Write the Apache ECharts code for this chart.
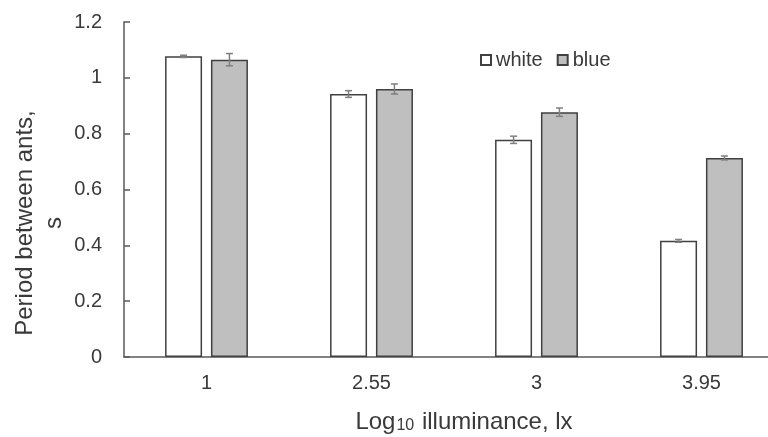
<!DOCTYPE html>
<html>
<head>
<meta charset="utf-8">
<style>
  html, body { margin: 0; padding: 0; background: #ffffff; }
  #chart { width: 768px; height: 437px; }
</style>
<script src="https://cdn.jsdelivr.net/npm/echarts@6/dist/echarts.min.js"></script>
</head>
<body>
<div id="chart"></div>
<script>
const categories = ['1', '2.55', '3', '3.95'];
const whiteValues = [1.077, 0.942, 0.778, 0.416];
const blueValues = [1.065, 0.960, 0.877, 0.713];
const whiteErrors = [0.004, 0.012, 0.013, 0.005];
const blueErrors = [0.022, 0.018, 0.015, 0.007];
const yTickLabels = ['0', '0.2', '0.4', '0.6', '0.8', '1', '1.2'];

const FONT = 'Liberation Sans, Arial, sans-serif';
const TEXT = '#3a3a3a';
const BAR_W = 37;
const BAR_GAP = 0.24;

function errorBars(sign) {
  return function (params, api) {
    const i = api.value(0);
    const v = api.value(1);
    const e = api.value(2);
    const off = sign * BAR_W * (1 + BAR_GAP) / 2;
    const x = api.coord([i, v])[0] + off;
    const yTop = api.coord([i, v + e])[1];
    const yBot = api.coord([i, v - e])[1];
    const cap = 3.5;
    const style = { stroke: '#7f7f7f', lineWidth: 1.5 };
    return {
      type: 'group',
      children: [
        { type: 'line', shape: { x1: x, y1: yTop, x2: x, y2: yBot }, style: style },
        { type: 'line', shape: { x1: x - cap, y1: yTop, x2: x + cap, y2: yTop }, style: style },
        { type: 'line', shape: { x1: x - cap, y1: yBot, x2: x + cap, y2: yBot }, style: style }
      ]
    };
  };
}

const chart = echarts.init(document.getElementById('chart'), null, { renderer: 'canvas' });
chart.setOption({
  animation: false,
  backgroundColor: '#ffffff',
  textStyle: { fontFamily: FONT, color: TEXT },
  grid: { left: 124, top: 22, width: 660, height: 335, containLabel: false, outerBoundsMode: 'none' },
  legend: {
    data: ['white', 'blue'],
    left: 475,
    top: 45,
    icon: 'rect',
    itemWidth: 10,
    itemHeight: 10,
    itemGap: 14,
    textStyle: { fontFamily: FONT, fontSize: 20, color: TEXT }
  },
  xAxis: {
    type: 'category',
    data: categories,
    axisLine: { show: true, lineStyle: { color: '#595959', width: 1.5 } },
    axisTick: { show: false },
    axisLabel: { fontFamily: FONT, fontSize: 20, color: TEXT, margin: 16 },
    splitLine: { show: false }
  },
  yAxis: {
    type: 'value',
    min: 0,
    max: 1.2,
    interval: 0.2,
    axisLine: { show: true, lineStyle: { color: '#595959', width: 1.5 } },
    axisTick: { show: true, inside: true, length: 6, lineStyle: { color: '#595959', width: 1.5 } },
    axisLabel: {
      fontFamily: FONT, fontSize: 20, color: TEXT, margin: 22,
      formatter: function (v) { return yTickLabels[Math.round(v / 0.2)]; }
    },
    splitLine: { show: false }
  },
  graphic: [
    {
      type: 'text',
      x: 40,
      y: 223,
      rotation: Math.PI / 2,
      style: {
        text: 'Period between ants,\ns',
        fontFamily: FONT,
        fontSize: 24,
        lineHeight: 29,
        fill: TEXT,
        align: 'center',
        verticalAlign: 'middle'
      }
    },
    {
      type: 'text',
      x: 464,
      y: 410,
      style: {
        text: '{a|Log}{sub|10}{a| illuminance, lx}',
        align: 'center',
        verticalAlign: 'top',
        fill: TEXT,
        rich: {
          a: { fontFamily: FONT, fontSize: 24, lineHeight: 24, verticalAlign: 'top', fill: TEXT },
          sub: { fontFamily: FONT, fontSize: 16, lineHeight: 16, verticalAlign: 'bottom', padding: [11, 1, 0, 1], fill: TEXT }
        }
      }
    }
  ],
  series: [
    {
      name: 'white',
      type: 'bar',
      data: whiteValues,
      barWidth: BAR_W,
      barGap: (BAR_GAP * 100) + '%',
      itemStyle: { color: '#ffffff', borderColor: '#404040', borderWidth: 1.5 },
      z: 2
    },
    {
      name: 'blue',
      type: 'bar',
      data: blueValues,
      barWidth: BAR_W,
      barGap: (BAR_GAP * 100) + '%',
      itemStyle: { color: '#bfbfbf', borderColor: '#404040', borderWidth: 1.5 },
      z: 2
    },
    {
      name: 'white error',
      type: 'custom',
      renderItem: errorBars(-1),
      data: categories.map(function (c, i) { return [i, whiteValues[i], whiteErrors[i]]; }),
      encode: { x: 0, y: 1 },
      z: 5,
      silent: true
    },
    {
      name: 'blue error',
      type: 'custom',
      renderItem: errorBars(1),
      data: categories.map(function (c, i) { return [i, blueValues[i], blueErrors[i]]; }),
      encode: { x: 0, y: 1 },
      z: 5,
      silent: true
    }
  ]
});
</script>
</body>
</html>
